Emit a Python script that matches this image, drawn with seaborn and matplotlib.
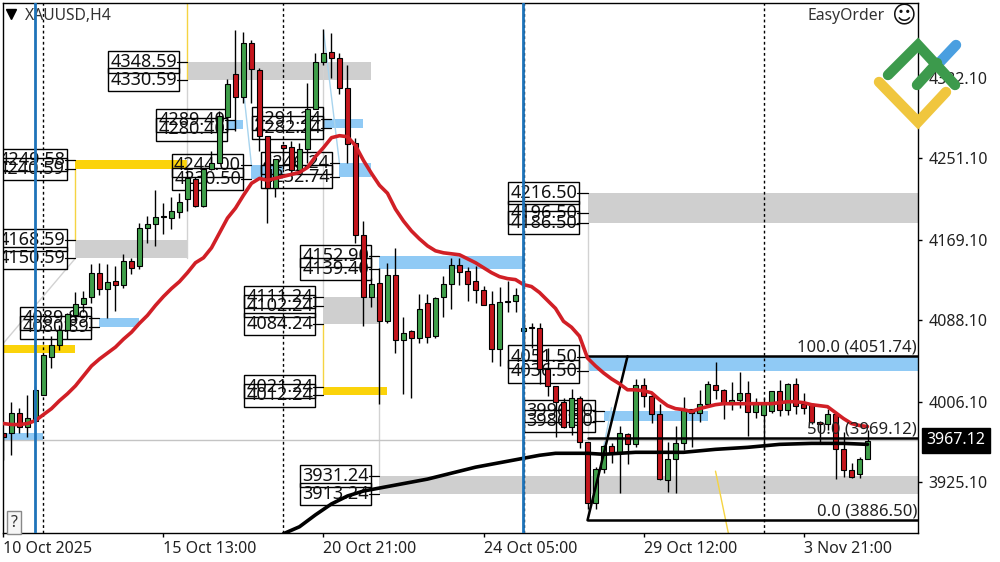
import pandas as pd
import seaborn as sns
import matplotlib.pyplot as plt
from matplotlib.lines import Line2D
from matplotlib.patches import Rectangle

# candles, one value per H4 bar
opens = [3974, 3974, 3995, 3980, 3987, 4013, 4051, 4063, 4078, 4093, 4104, 4111, 4136, 4120, 4128, 4124, 4148, 4143, 4181, 4185,
         4192, 4191, 4197, 4210, 4230, 4203, 4240, 4246, 4293, 4336, 4313, 4367, 4340, 4274, 4221, 4265, 4263, 4239, 4261, 4301,
         4348, 4358, 4352, 4322, 4267, 4174, 4111, 4126, 4087, 4134, 4068, 4077, 4070, 4105, 4072, 4111, 4125, 4144, 4138, 4128,
         4119, 4104, 4059, 4106, 4107, 4077, 4081, 4080, 4039, 4022, 4006, 3981, 4010, 3965, 3904, 3938, 3961, 3954, 3973, 3963,
         4023, 4012, 3994, 3927, 3948, 3964, 3999, 3995, 4004, 4023, 4018, 4004, 4008, 4015, 3996, 3993, 3997, 4017, 3998, 4024,
         4004, 4004, 3986, 3984, 3994, 3958, 3937, 3933, 3948]
highs = [3974, 4006, 4000, 4013, 4022, 4053, 4072, 4083, 4095, 4117, 4118, 4145, 4146, 4145, 4143, 4155, 4151, 4186, 4193, 4219,
         4206, 4212, 4216, 4239, 4232, 4241, 4259, 4299, 4331, 4380, 4378, 4370, 4342, 4274, 4251, 4265, 4269, 4267, 4327, 4357,
         4382, 4377, 4357, 4345, 4272, 4188, 4131, 4141, 4146, 4161, 4091, 4078, 4114, 4114, 4111, 4133, 4151, 4151, 4142, 4143,
         4123, 4118, 4122, 4128, 4121, 4095, 4085, 4085, 4060, 4022, 4010, 4019, 4012, 3965, 3940, 3962, 3964, 3982, 3974, 4029,
         4030, 4015, 4004, 3965, 3982, 4011, 3999, 4018, 4027, 4046, 4019, 4026, 4036, 4027, 4010, 4010, 4017, 4028, 4025, 4030,
         4015, 4005, 3987, 3999, 3994, 3975, 3944, 3950, 3977]
lows = [3947, 3952, 3974, 3970, 3985, 4013, 4040, 4058, 4069, 4088, 4096, 4105, 4113, 4090, 4097, 4121, 4135, 4140, 4166, 4163,
        4175, 4180, 4191, 4198, 4202, 4202, 4239, 4246, 4279, 4279, 4307, 4307, 4259, 4186, 4212, 4240, 4239, 4239, 4246, 4301,
        4345, 4332, 4316, 4246, 4166, 4082, 4101, 4004, 4085, 4055, 4014, 4010, 4065, 4065, 4070, 4091, 4099, 4124, 4107, 4105,
        4103, 4046, 4042, 4096, 4096, 4060, 4060, 4024, 4012, 3970, 3979, 3972, 3959, 3898, 3898, 3934, 3944, 3914, 3943, 3960,
        4001, 3985, 3927, 3915, 3914, 3957, 3960, 3986, 4002, 4009, 3989, 3998, 4000, 3971, 3990, 3957, 3995, 3992, 3993, 3994,
        3994, 3984, 3965, 3977, 3928, 3930, 3929, 3929, 3948]
closes = [3970, 3995, 3980, 3990, 4018, 4053, 4063, 4078, 4094, 4104, 4110, 4136, 4120, 4127, 4124, 4148, 4141, 4181, 4185, 4192,
          4193, 4198, 4207, 4231, 4203, 4240, 4246, 4294, 4326, 4313, 4367, 4341, 4274, 4221, 4251, 4262, 4239, 4261, 4301, 4348,
          4357, 4352, 4322, 4266, 4174, 4111, 4125, 4087, 4134, 4068, 4075, 4070, 4099, 4071, 4110, 4125, 4144, 4137, 4125, 4119,
          4103, 4059, 4106, 4107, 4113, 4080, 4080, 4039, 4022, 4006, 3980, 4010, 3965, 3904, 3938, 3961, 3954, 3974, 3963, 4023,
          4012, 3994, 3928, 3948, 3964, 3999, 3995, 4004, 4024, 4018, 4004, 4008, 4015, 3996, 4004, 4004, 4017, 3998, 4024, 4002,
          4000, 3986, 3984, 3994, 3958, 3937, 3930, 3948, 3966]

# red moving average, same bars
red_ma = [3984, 3983, 3983, 3984, 3987, 3993, 3999, 4007, 4014, 4022, 4032, 4042, 4049, 4055, 4061, 4069, 4076, 4085, 4093, 4103,
          4112, 4120, 4127, 4136, 4146, 4151, 4161, 4176, 4191, 4201, 4214, 4226, 4231, 4229, 4231, 4233, 4235, 4237, 4242, 4253,
          4262, 4272, 4274, 4273, 4264, 4249, 4236, 4224, 4216, 4200, 4188, 4178, 4170, 4163, 4158, 4156, 4155, 4154, 4150, 4146,
          4141, 4136, 4132, 4130, 4129, 4124, 4122, 4116, 4108, 4100, 4087, 4081, 4072, 4050, 4042, 4035, 4029, 4024, 4018, 4018,
          4017, 4015, 4008, 4002, 3999, 3998, 3996, 3999, 4001, 4003, 4004, 4004, 4004, 4004, 4004, 4004, 4004, 4005, 4006, 4006,
          4005, 4003, 4002, 4001, 3995, 3989, 3984, 3982, 3981]

# black moving average, only read at some bars
black_bars = [35, 37, 39, 41, 43, 45, 47, 49, 51, 53, 55, 57, 59, 61, 63, 65, 67, 69, 71, 73, 75, 77, 79, 85, 89, 93, 97, 101, 105, 108]
black_ma = [3873, 3880, 3892, 3903, 3911, 3916, 3919, 3922, 3925, 3928, 3932, 3936, 3940, 3943, 3946, 3949, 3952, 3954, 3954, 3954,
            3953, 3954, 3955, 3955, 3958, 3960, 3963, 3964, 3964, 3963]

x_ticks = [0, 20, 40, 60, 80, 100]
x_labels = ['10 Oct 2025', '15 Oct 13:00', '20 Oct 21:00', '24 Oct 05:00', '29 Oct 12:00', '3 Nov 21:00']
y_ticks = [3925.10, 4006.10, 4088.10, 4169.10, 4251.10, 4332.10]

# zones: first bar, last bar, top, bottom
grey_zones = [(9, 23, 4168.59, 4150.59), (23, 46, 4348.59, 4330.59), (40, 47, 4111.24, 4084.24),
              (47, 115, 3931.24, 3913.24), (73, 115, 4216.50, 4186.50)]
yellow_zones = [(9, 23, 4249.58, 4240.59), (0, 9, 4063, 4055), (40, 48, 4021.24, 4012.24)]
blue_zones = [(0, 5, 3974, 3966), (12, 17, 4089.89, 4080.89), (28, 30, 4289.40, 4280.40), (40, 45, 4291.24, 4282.24),
              (31, 35, 4244.00, 4230.50), (42, 46, 4246.24, 4232.74), (47, 65, 4152.90, 4139.40),
              (73, 115, 4051.50, 4036.50), (75, 88, 3996.50, 3986.50)]

# price labels: right edge of box in bars, tick end in bars, prices
label_groups = [(21.7, 23, [4348.59, 4330.59]), (7.7, 9, [4249.58, 4240.59]), (7.7, 9, [4168.59, 4150.59]),
                (27.7, 29, [4289.40, 4280.40]), (39.7, 41, [4291.24, 4282.24]), (29.7, 31, [4244.00, 4230.50]),
                (40.8, 42, [4246.24, 4232.74]), (45.7, 47, [4152.90, 4139.40]), (38.7, 40, [4111.24, 4102.24, 4084.24]),
                (38.7, 40, [4021.24, 4012.24]), (45.7, 47, [3931.24, 3913.24]), (71.7, 73, [4216.50, 4196.50, 4186.50]),
                (71.7, 73, [4051.50, 4036.50]), (73.7, 75, [3996.50, 3986.50]), (10.7, 12, [4089.89, 4080.89])]

blue_lines = [4, 65]
dashed_lines = [5, 35, 65, 95]
fib_levels = [(4051.74, '100.0 (4051.74)'), (3969.12, '50.0 (3969.12)'), (3886.50, '0.0 (3886.50)')]
last_price = 3967.12

GREEN = '#3f9f4a'
RED = '#c5161d'
sns.set_theme(style='white')
plt.rcParams['font.family'] = ['Noto Sans', 'DejaVu Sans']

df = pd.DataFrame({'bar': range(len(opens)), 'open': opens, 'high': highs, 'low': lows, 'close': closes, 'ma': red_ma})
df['top'] = df[['open', 'close']].max(axis=1)
df['bottom'] = df[['open', 'close']].min(axis=1)
df['color'] = [GREEN if c >= o else RED for o, c in zip(df['open'], df['close'])]

fig = plt.figure(figsize=(10, 5.62), dpi=100, facecolor='white')
ax = fig.add_axes([3 / 1000, 1 - 533 / 562, 915 / 1000, 530 / 562])
ax.set_xlim(-0.06, 114.31)
ax.set_ylim(3873.7, 4407.7)

# zones
for zones, col in [(grey_zones, '#cfcfcf'), (yellow_zones, '#fbd30a'), (blue_zones, '#90caf5')]:
    for x0, x1, top, bot in zones:
        ax.add_patch(Rectangle((x0, bot), x1 - x0, top - bot, fc=col, ec='none', zorder=1))

# thin connector lines between the zones
for xs, ys in [([23, 23], [4330.59, 4407.7]), ([9, 9], [4168.59, 4240.59]), ([40, 40], [4084.24, 4021.24])]:
    ax.plot(xs, ys, color='#f5d442', lw=1, zorder=1.2)
for xs, ys in [([23, 23], [4150.59, 4330.59]), ([40, 40], [4111.24, 4345]), ([47, 47], [3931.24, 4084.24]),
               ([73, 73], [3886.50, 4186.50]), ([0, 9], [4065, 4150.59])]:
    ax.plot(xs, ys, color='#d2d2d2', lw=1, zorder=1.2)
for xs, ys in [([30, 31], [4320, 4244]), ([40, 42], [4380, 4246]), ([75, 76], [3960, 4000])]:
    ax.plot(xs, ys, color='#a8d4ee', lw=1, zorder=1.2)
ax.plot([89, 90.6], [3936, 3873.7], color='#f5d442', lw=1, zorder=1.2)

ax.axhline(last_price, color='#c4c4c4', lw=1, zorder=1.3)

for b in dashed_lines:
    ax.axvline(b, color='black', lw=1, ls=(0, (2, 2)), zorder=1.4)
for b in blue_lines:
    ax.axvline(b - 0.1, color='#1e73b9', lw=2, zorder=4.5)

# price labels, the box has no fill so zones show through
for right, tick_end, prices in label_groups:
    for p in prices:
        ax.plot([right, tick_end], [p, p], color='black', lw=0.9, zorder=1.6)
        ax.text(right, p, f'{p:.2f}', ha='right', va='center', fontsize=13, color='#111111', zorder=1.7, clip_on=True,
                bbox=dict(boxstyle='square,pad=0.12', fc='none', ec='black', lw=1))

# fibonacci
for level, txt in fib_levels:
    ax.plot([73, 115], [level, level], color='black', lw=1.8, zorder=3.5)
    ax.text(114.2, level + 1, txt, ha='right', va='bottom', fontsize=12, color='#222222', zorder=5)
ax.plot([73, 78], [3886.50, 4051.74], color='black', lw=1.8, zorder=3.5)

# candles
ax.vlines(df['bar'], df['low'], df['high'], color='black', lw=1, zorder=2)
ax.bar(df['bar'], df['top'] - df['bottom'], bottom=df['bottom'], width=0.66, color=df['color'],
       edgecolor='black', linewidth=0.8, zorder=2.2)

# moving averages
sns.lineplot(x=black_bars, y=black_ma, color='black', lw=2.6, estimator=None, ax=ax, zorder=3)
sns.lineplot(data=df, x='bar', y='ma', color='#d11f26', lw=2.6, estimator=None, ax=ax, zorder=4)

# axes, ticks on the right and the bottom
ax.yaxis.tick_right()
ax.set_yticks(y_ticks)
ax.set_yticklabels([f'{v:.2f}' for v in y_ticks])
ax.set_xticks(x_ticks)
ax.set_xticklabels(x_labels, ha='left')
ax.tick_params(axis='both', length=3, width=1, color='black', labelsize=11.5, labelcolor='#222222', bottom=True, right=True)
ax.tick_params(axis='x', pad=2.5)
ax.tick_params(axis='y', pad=4.5)
ax.set_xlabel('')
ax.set_ylabel('')
for sp in ax.spines.values():
    sp.set_color('black')
    sp.set_linewidth(1)

# current price tag
ax.text(1.0095, last_price, f'{last_price:.2f}', transform=ax.get_yaxis_transform(), va='center', ha='left',
        fontsize=11.5, color='white', zorder=6, clip_on=False,
        bbox=dict(boxstyle='square,pad=0.28', fc='black', ec='black'))

# header bits
ax.plot([0.0087], [0.98], marker='v', ms=7, color='black', transform=ax.transAxes, zorder=6)
ax.text(0.024, 0.975, 'XAUUSD,H4', transform=ax.transAxes, va='center', ha='left', fontsize=11.3, color='#333333')
ax.text(0.964, 0.975, 'EasyOrder', transform=ax.transAxes, va='center', ha='right', fontsize=11.3, color='#333333')
ax.text(0.9836, 0.974, '\u263a', transform=ax.transAxes, va='center', ha='center', fontsize=17, color='#111111',
        family='DejaVu Sans')
ax.text(0.0125, 0.019, '?', transform=ax.transAxes, va='center', ha='center', fontsize=11.5, color='#333333',
        bbox=dict(boxstyle='square,pad=0.22', fc='#f6f6f6', ec='#888888', lw=1))

# logo in figure pixels, on top of everything
logo_strokes = [([940, 956], [62, 45], '#4a9fe0'),
                ([879, 918, 946], [82, 122, 92], '#f0c63e'),
                ([917, 937], [85, 63], '#3c9a4c'),
                ([888, 918, 955], [75, 45, 85], '#3c9a4c')]
for xs, ys, col in logo_strokes:
    fig.add_artist(Line2D([x / 1000 for x in xs], [1 - y / 562 for y in ys], color=col, lw=7.5,
                          solid_capstyle='round', solid_joinstyle='miter', zorder=10))

fig.savefig('out.png', dpi=100)
